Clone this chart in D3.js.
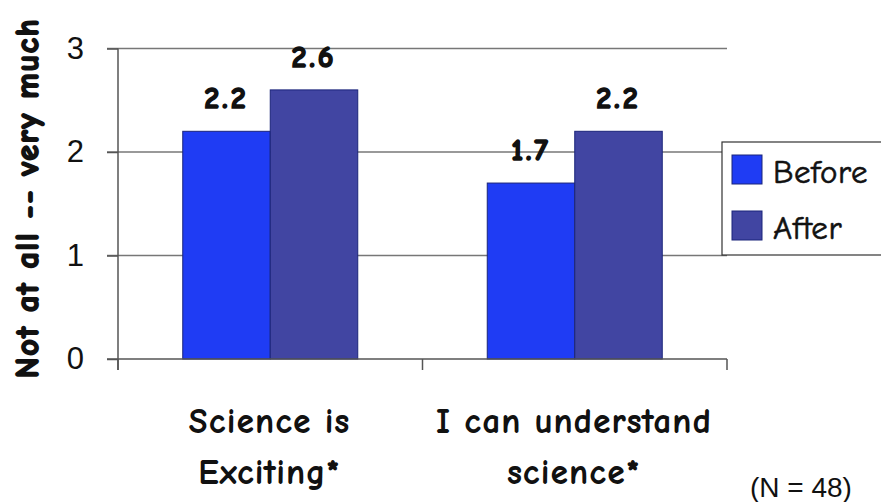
<!DOCTYPE html>
<html>
<head>
<meta charset="utf-8">
<script src="https://d3js.org/d3.v7.min.js"></script>
<style>
  body { margin: 0; background: #fff; }
  .comic { font-family: "Comic Sans MS", "Comic Neue", "DejaVu Sans", sans-serif; paint-order: stroke; stroke: #111; }
  .plain { font-family: "Liberation Sans", Arial, Helvetica, sans-serif; }
</style>
</head>
<body>
<svg width="881" height="502"></svg>
<script>
// chart data
var categories = ["Science is|Exciting*", "I can understand|science*"];
var series = ["Before", "After"];
var before = [2.2, 1.7];
var after = [2.6, 2.2];
var yTicks = [0, 1, 2, 3];
var colors = ["#1f3cf4", "#4145a2"];

var svg = d3.select("svg");

var x = d3.scaleBand().domain(categories).range([118, 727]).paddingInner(0).paddingOuter(0);
var xi = d3.scaleBand().domain(series).range([0, x.bandwidth()]).paddingInner(0).paddingOuter(0.74);
var y = d3.scaleLinear().domain([0, 3]).range([359, 48.5]);

// gridlines
svg.append("g")
  .selectAll("line")
  .data(yTicks.filter(d => d > 0))
  .join("line")
    .attr("x1", 107).attr("x2", 727)
    .attr("y1", d => y(d)).attr("y2", d => y(d))
    .attr("stroke", "#777").attr("stroke-width", 1.5);

// y axis
var yAxis = svg.append("g").attr("transform", "translate(118,0)")
  .call(d3.axisLeft(y).tickValues(yTicks).tickSize(11).tickFormat(d3.format("d")));
yAxis.select(".domain").attr("stroke", "#555").attr("stroke-width", 1.5).attr("d", "M0," + y(3) + "V370");
yAxis.selectAll(".tick line").attr("stroke", "#555").attr("stroke-width", 1.5);
yAxis.selectAll(".tick text")
  .attr("class", "plain")
  .attr("x", -34)
  .attr("font-size", 31)
  .attr("fill", "#111");

// bars
var rows = categories.map((c, i) => ({cat: c, vals: [before[i], after[i]]}));
svg.append("g")
  .selectAll("g")
  .data(rows)
  .join("g")
    .attr("transform", d => "translate(" + x(d.cat) + ",0)")
  .selectAll("rect")
  .data(d => d.vals.map((v, j) => ({key: series[j], v: v, j: j})))
  .join("rect")
    .attr("x", d => xi(d.key))
    .attr("y", d => y(d.v))
    .attr("width", xi.bandwidth())
    .attr("height", d => y(0) - y(d.v))
    .attr("fill", d => colors[d.j])
    .attr("stroke", "#1b247a")
    .attr("stroke-width", 1);

// value labels
svg.append("g")
  .selectAll("g")
  .data(rows)
  .join("g")
    .attr("transform", d => "translate(" + x(d.cat) + ",0)")
  .selectAll("text")
  .data(d => d.vals.map((v, j) => ({key: series[j], v: v})))
  .join("text")
    .attr("class", "comic")
    .attr("x", d => xi(d.key) + xi.bandwidth() / 2)
    .attr("y", d => y(d.v) - 23)
    .attr("text-anchor", "middle")
    .attr("font-size", 30)
    .attr("font-weight", "bold")
    .attr("letter-spacing", 3)
    .attr("stroke-width", 1.6)
    .attr("fill", "#111")
    .text(d => d3.format(".1f")(d.v));

// x axis
var xAxis = svg.append("g").attr("transform", "translate(0,359)");
xAxis.append("line")
  .attr("x1", 107).attr("x2", 727).attr("y1", 0).attr("y2", 0)
  .attr("stroke", "#555").attr("stroke-width", 1.5);
xAxis.selectAll(".xt")
  .data(categories.map(c => x(c)).concat([727]))
  .join("line")
    .attr("class", "xt")
    .attr("x1", d => d).attr("x2", d => d)
    .attr("y1", 0).attr("y2", 11)
    .attr("stroke", "#555").attr("stroke-width", 1.5);

xAxis.selectAll(".xl")
  .data(categories)
  .join("text")
    .attr("class", "xl comic")
    .attr("x", d => x(d) + x.bandwidth() / 2)
    .attr("y", 73)
    .attr("text-anchor", "middle")
    .attr("font-size", 32)
    .attr("letter-spacing", 2.5)
    .attr("stroke-width", 1.8)
    .attr("fill", "#111")
    .each(function(d) {
      var t = d3.select(this);
      d.split("|").forEach((s, i) => {
        t.append("tspan").attr("x", x(d) + x.bandwidth() / 2).attr("dy", i ? 51 : 0).text(s);
      });
    });

// y title
svg.append("text")
  .attr("class", "comic")
  .attr("transform", "translate(38,198) rotate(-90)")
  .attr("text-anchor", "middle")
  .attr("font-size", 32)
  .attr("font-weight", "bold")
  .attr("letter-spacing", 1.8)
  .attr("stroke-width", 1.8)
  .attr("fill", "#111")
  .text("Not at all -- very much");

// legend
var legend = svg.append("g").attr("transform", "translate(722,142)");
legend.append("rect")
  .attr("width", 170).attr("height", 113)
  .attr("fill", "#fff").attr("stroke", "#333").attr("stroke-width", 1.2);
series.forEach((s, i) => {
  var row = legend.append("g").attr("transform", "translate(10," + (13 + i * 56) + ")");
  row.append("rect").attr("width", 30).attr("height", 29)
    .attr("fill", colors[i]).attr("stroke", "#1b247a").attr("stroke-width", 1);
  row.append("text").attr("class", "comic")
    .attr("x", 41).attr("y", 28)
    .attr("font-size", 33).attr("stroke-width", 0.6)
    .attr("letter-spacing", 0.5)
    .attr("fill", "#111")
    .text(s);
});

// note
svg.append("text")
  .attr("class", "plain")
  .attr("x", 750).attr("y", 497)
  .attr("font-size", 28)
  .attr("fill", "#111")
  .text("(N = 48)");
</script>
</body>
</html>
